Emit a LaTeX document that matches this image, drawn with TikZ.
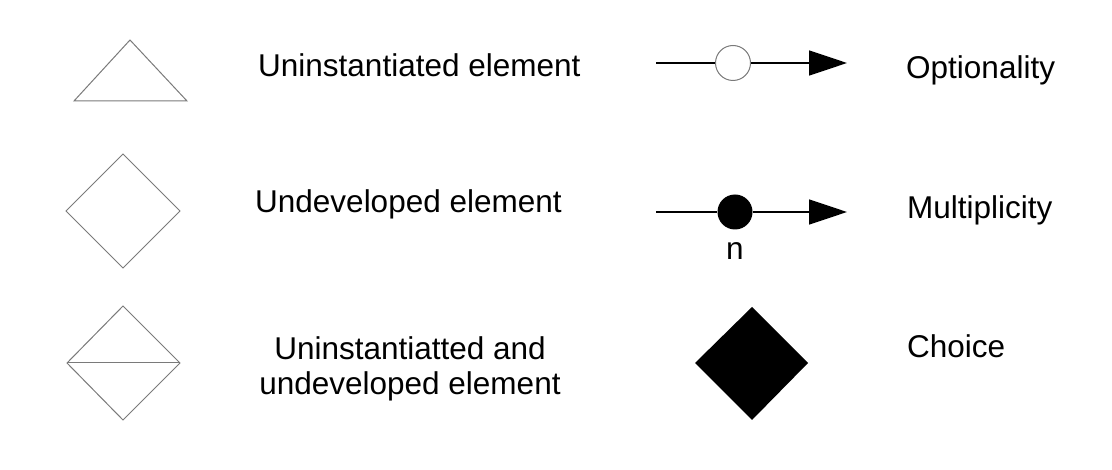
\documentclass[tikz,border=0pt]{standalone}
\usepackage{fontspec}
\setmainfont{Liberation Sans}
\usetikzlibrary{arrows.meta}
\definecolor{outline}{HTML}{7A7A7A}

\begin{document}
\begin{tikzpicture}[
  x=1pt, y=-1pt,
  font=\fontsize{31.5}{35}\selectfont,
  >={Triangle[length=38pt,width=25pt]},
  symbol/.style={draw=outline, line width=1pt, line join=miter},
  label/.style={anchor=base west, inner sep=0pt},
  caption/.style={anchor=base, inner sep=0pt, align=center},
  link/.style={draw=black, line width=1.6pt},
  opt dot/.style={circle, draw=outline, fill=white, line width=1pt,
    minimum size=35pt, inner sep=0pt},
  mult dot/.style={circle, fill=black, minimum size=35pt, inner sep=0pt}
]
\useasboundingbox (0,0) rectangle (1112,470);

% Left column: element symbols
\draw[symbol] (74,101) -- (130,40) -- (187,101) -- cycle;
\draw[symbol] (123,154) -- (180,211) -- (123,268) -- (66,211) -- cycle;
\draw[symbol] (123,306) -- (180,363) -- (123,420) -- (67,363) -- cycle;
\draw[symbol] (67,363) -- (180,363);

% Left column: descriptions
\node[label] (uninst) at (258,77) {Uninstantiated element};
\node[label] (undev) at (255,213) {Undeveloped element};
\node[caption] (both) at (410,395) {Uninstantiatted and\\undeveloped element};

% Right column: optionality
\coordinate (opt start) at (656,63);
\node[opt dot] (opt) at (733,63) {};
\coordinate (opt end) at (847,63);
\draw[link] (opt start) -- (opt);
\draw[link,->] (opt) -- (opt end);
\node[label] (optional) at (906,79) {Optionality};

% Right column: multiplicity
\coordinate (mult start) at (656,212);
\node[mult dot] (mult) at (735,212) {};
\coordinate (mult end) at (847,212);
\draw[link] (mult start) -- (mult);
\draw[link,->] (mult) -- (mult end);
\node[caption] (n) at (735,260) {n};
\node[label] (multiple) at (907,219) {Multiplicity};

% Right column: choice
\fill (752,307) -- (808,363) -- (752,420) -- (695,363) -- cycle;
\node[label] (choice) at (907,358) {Choice};

\end{tikzpicture}
\end{document}
